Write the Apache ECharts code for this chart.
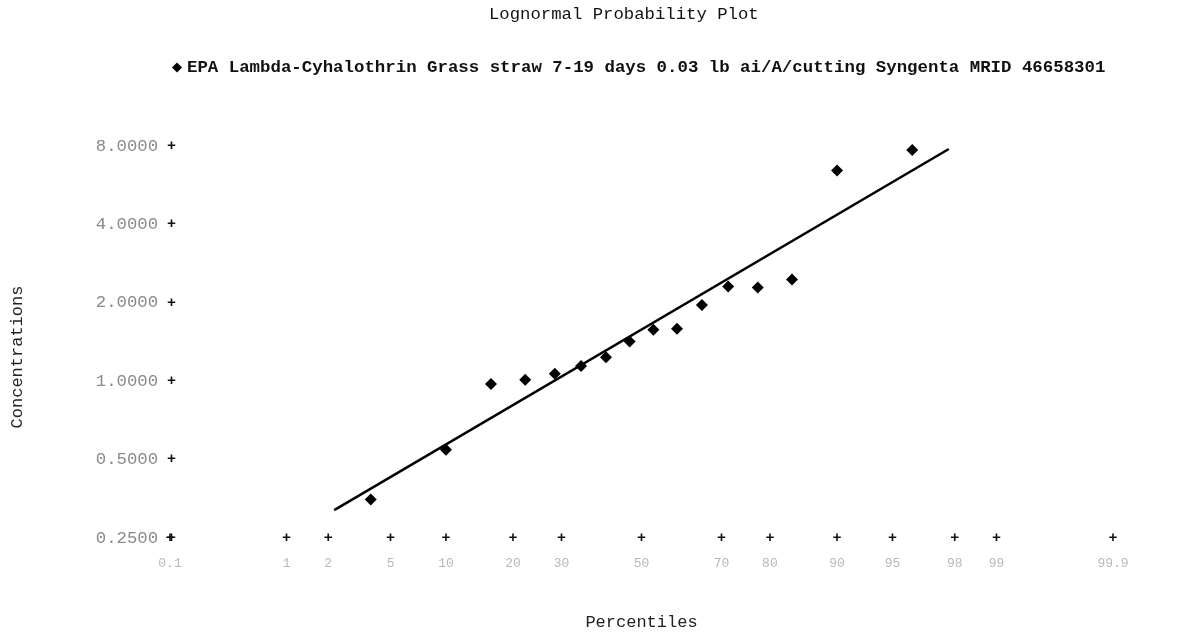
<!DOCTYPE html>
<html>
<head>
<meta charset="utf-8">
<script src="https://cdn.jsdelivr.net/npm/echarts@6/dist/echarts.min.js"></script>
<style>html,body{margin:0;padding:0;background:#fff;overflow:hidden;}#chart{width:1177px;height:636px;}</style>
</head>
<body>
<div id="chart"></div>
<script>
// ---- data ----
const seriesName = 'EPA Lambda-Cyhalothrin Grass straw 7-19 days 0.03 lb ai/A/cutting Syngenta MRID 46658301';
const percentiles = [3.8, 10.0, 16.2, 22.3, 28.5, 34.6, 40.8, 46.9, 53.1, 59.2, 65.4, 71.5, 77.7, 83.8, 90.0, 96.2];
const concentrations = [0.351, 0.546, 0.975, 1.012, 1.067, 1.143, 1.236, 1.42, 1.577, 1.59, 1.96, 2.31, 2.29, 2.455, 6.44, 7.73];
const fitPercentiles = [2.2, 97.8];
const fitValues = [0.32, 7.79];
const xTickPercentiles = [0.1, 1, 2, 5, 10, 20, 30, 50, 70, 80, 90, 95, 98, 99, 99.9];
const xTickLabels = ['0.1', '1', '2', '5', '10', '20', '30', '50', '70', '80', '90', '95', '98', '99', '99.9'];
const yTicks = [0.25, 0.5, 1, 2, 4, 8];

// probability-scale transform (inverse standard normal CDF)
function normInv(p) {
  const a = [-3.969683028665376e+01, 2.209460984245205e+02, -2.759285104469687e+02, 1.383577518672690e+02, -3.066479806614716e+01, 2.506628277459239e+00];
  const b = [-5.447609879822406e+01, 1.615858368580409e+02, -1.556989798598866e+02, 6.680131188771972e+01, -1.328068155288572e+01];
  const c = [-7.784894002430293e-03, -3.223964580411365e-01, -2.400758277161838e+00, -2.549732539343734e+00, 4.374664141464968e+00, 2.938163982698783e+00];
  const d = [7.784695709041462e-03, 3.224671290700398e-01, 2.445134137142996e+00, 3.754408661907416e+00];
  const pl = 0.02425, ph = 1 - pl;
  let q, r;
  if (p < pl) {
    q = Math.sqrt(-2 * Math.log(p));
    return (((((c[0]*q+c[1])*q+c[2])*q+c[3])*q+c[4])*q+c[5]) / ((((d[0]*q+d[1])*q+d[2])*q+d[3])*q+1);
  }
  if (p <= ph) {
    q = p - 0.5; r = q * q;
    return (((((a[0]*r+a[1])*r+a[2])*r+a[3])*r+a[4])*r+a[5])*q / (((((b[0]*r+b[1])*r+b[2])*r+b[3])*r+b[4])*r+1);
  }
  q = Math.sqrt(-2 * Math.log(1 - p));
  return -(((((c[0]*q+c[1])*q+c[2])*q+c[3])*q+c[4])*q+c[5]) / ((((d[0]*q+d[1])*q+d[2])*q+d[3])*q+1);
}
const z = p => normInv(p / 100);
const xTickZ = xTickPercentiles.map(z);

const FONT = "'Liberation Mono', 'DejaVu Sans Mono', monospace";

const el = document.getElementById('chart');
const chart = echarts.init(el, null, { renderer: 'canvas' });
chart.setOption({
  backgroundColor: '#ffffff',
  animation: false,
  title: {
    text: 'Lognormal Probability Plot',
    left: 484, top: 1,
    textStyle: { fontFamily: FONT, fontSize: 17.3, fontWeight: 'normal', color: '#111' }
  },
  legend: {
    data: [seriesName],
    left: 167, top: 54,
    icon: 'diamond',
    itemWidth: 10, itemHeight: 10, itemGap: 5,
    textStyle: { fontFamily: FONT, fontSize: 17.4, fontWeight: 'bold', color: '#111' }
  },
  grid: { left: 170, right: 64, top: 146, bottom: 91, containLabel: false },
  graphic: [
    {
      type: 'text', x: 17, y: 357, rotation: Math.PI / 2,
      style: { text: 'Concentrations', fontFamily: FONT, fontSize: 17, fill: '#222', align: 'center', verticalAlign: 'middle' }
    }
  ],
  xAxis: {
    type: 'value',
    min: z(xTickPercentiles[0]),
    max: z(xTickPercentiles[xTickPercentiles.length - 1]),
    name: 'Percentiles',
    nameLocation: 'middle',
    nameGap: 76,
    nameTextStyle: { fontFamily: FONT, fontSize: 17, color: '#222' },
    axisLine: { show: false },
    axisTick: { show: false },
    splitLine: { show: false },
    axisLabel: {
      customValues: xTickZ,
      margin: -8,
      formatter: function (v) {
        let best = 0, bd = Infinity;
        xTickZ.forEach((t, i) => { const dd = Math.abs(t - v); if (dd < bd) { bd = dd; best = i; } });
        return '{p|+}\n{n|' + xTickLabels[best] + '}';
      },
      rich: {
        p: { fontFamily: FONT, fontSize: 15, fontWeight: 'bold', color: '#111', lineHeight: 16, align: 'center' },
        n: { fontFamily: FONT, fontSize: 13, color: '#b8b8b8', lineHeight: 36, align: 'center' }
      }
    }
  },
  yAxis: {
    type: 'log',
    logBase: 2,
    min: yTicks[0],
    max: yTicks[yTicks.length - 1],
    axisLine: { show: false },
    axisTick: { show: false },
    splitLine: { show: false },
    axisLabel: {
      customValues: yTicks,
      margin: -6,
      formatter: function (v) { return '{n|' + v.toFixed(4) + '}{p|+}'; },
      rich: {
        n: { fontFamily: FONT, fontSize: 17.3, color: '#8a8a8a' },
        p: { fontFamily: FONT, fontSize: 15, fontWeight: 'bold', color: '#111', padding: [0, 0, 0, 9] }
      }
    }
  },
  series: [
    {
      name: seriesName,
      type: 'scatter',
      symbol: 'diamond',
      symbolSize: 12,
      itemStyle: { color: '#000', opacity: 1 },
      data: percentiles.map((p, i) => [z(p), concentrations[i]]),
      z: 3
    },
    {
      name: 'fit',
      type: 'line',
      showSymbol: false,
      symbol: 'none',
      lineStyle: { color: '#000', width: 2.5 },
      data: fitPercentiles.map((p, i) => [z(p), fitValues[i]]),
      z: 2
    }
  ]
});
</script>
</body>
</html>
